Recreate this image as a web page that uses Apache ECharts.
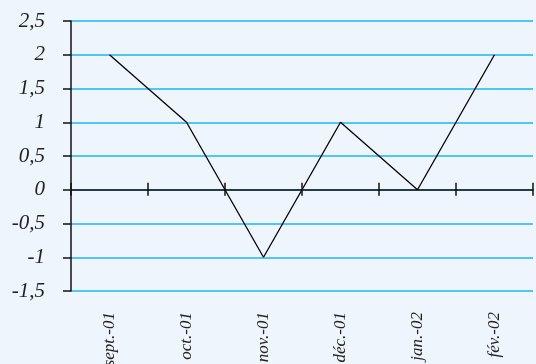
<!DOCTYPE html>
<html><head><meta charset="utf-8">
<script src="https://cdn.jsdelivr.net/npm/echarts@6/dist/echarts.min.js"></script>
<style>html,body{margin:0;padding:0;background:#EEF5FC;}#c{width:536px;height:364px;}</style>
</head><body><div id="c"></div>
<script>
const labels = ['sept.-01','oct.-01','nov.-01','déc.-01','jan.-02','fév.-02'];
const values = [2, 1, -1, 1, 0, 2];
const yMin = -1.5, yMax = 2.5, yStep = 0.5;

const font = '"Liberation Serif", "Times New Roman", serif';
const chart = echarts.init(document.getElementById('c'), null, {renderer:'canvas'});
chart.setOption({
  backgroundColor: '#EEF5FC',
  animation: false,
  grid: {left: 71, right: 3, top: 21, bottom: 73, containLabel: false, outerBoundsMode: 'none'},
  xAxis: [
    {type:'category', data: labels, position:'bottom', boundaryGap:true,
     axisLine:{show:false, onZero:false}, axisTick:{show:false},
     axisLabel:{rotate:90, margin:21, fontFamily:font, fontStyle:'italic', fontSize:17, color:'#222'}},
    {type:'category', data: labels, position:'bottom', boundaryGap:true,
     axisLine:{show:true, onZero:true, onZeroAxisIndex:0, lineStyle:{color:'#111', width:1.5}},
     axisTick:{show:true, inside:false, length:6, lineStyle:{color:'#111', width:1.5}},
     axisLabel:{show:false}},
    {type:'category', data: labels, position:'top', boundaryGap:true,
     axisLine:{show:false, onZero:true, onZeroAxisIndex:1},
     axisTick:{show:true, inside:false, length:7, lineStyle:{color:'#111', width:1.5}},
     axisLabel:{show:false}}
  ],
  yAxis: [
    {type:'value', min:yMin, max:yMax, interval:yStep,
     axisLine:{show:true, onZero:false, lineStyle:{color:'#111', width:1.5}},
     axisTick:{show:true, length:8, lineStyle:{color:'#111', width:1.5}},
     axisLabel:{margin:26, fontFamily:font, fontStyle:'italic', fontSize:21, color:'#222',
       formatter: v => String(v).replace('.', ',')},
     splitLine:{show:true, lineStyle:{color:'#1DB5F2', width:1.5}}},
    {type:'value', min:yMin, max:yMax, interval:yStep, position:'right',
     axisLine:{show:false, onZero:false}, axisTick:{show:false}, axisLabel:{show:false},
     splitLine:{show:false}}
  ],
  series: [{type:'line', xAxisIndex:0, yAxisIndex:0, data: values, showSymbol:false, symbol:'none',
    lineStyle:{color:'#000', width:1.3}}]
});
</script></body></html>
